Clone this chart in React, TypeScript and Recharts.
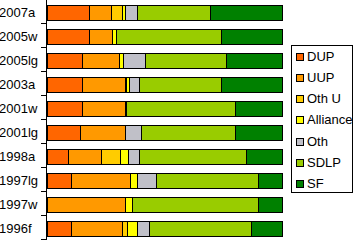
import { BarChart, Bar, XAxis, YAxis } from "recharts";

const categories = ["2007a", "2005w", "2005lg", "2003a", "2001w", "2001lg", "1998a", "1997lg", "1997w", "1996f"];

const dup = [17.8, 17.8, 15.1, 14.7, 14.7, 13.9, 8.8, 10.2, 0, 10.2];
const uup = [9.6, 9.9, 15.7, 18.4, 18.4, 19.1, 14.4, 25.0, 33.4, 21.9];
const othU = [4.4, 0, 0, 0.7, 0, 0, 8.1, 0, 0, 2.1];
const alliance = [1.6, 1.6, 1.7, 1.3, 0.7, 0, 3.0, 3.3, 3.0, 4.1];
const oth = [4.8, 0, 9.3, 4.0, 0, 6.9, 5.1, 8.1, 0, 5.2];
const sdlp = [31.3, 44.8, 34.4, 35.1, 46.3, 40.2, 45.4, 43.3, 53.5, 43.3];
const sf = [30.6, 25.9, 23.8, 25.9, 19.9, 19.9, 15.3, 10.2, 10.2, 13.2];

const SERIES = [
  { key: "DUP", values: dup, color: "#FF6600" },
  { key: "UUP", values: uup, color: "#FF9900" },
  { key: "Oth U", values: othU, color: "#FFCC00" },
  { key: "Alliance", values: alliance, color: "#FFFF00" },
  { key: "Oth", values: oth, color: "#C0C0C8" },
  { key: "SDLP", values: sdlp, color: "#99CC00" },
  { key: "SF", values: sf, color: "#008000" },
];

const data = categories.map((name, i) => {
  const row: any = { name };
  SERIES.forEach((s) => {
    row[s.key] = s.values[i];
  });
  return row;
});

const FONT = '"Liberation Sans", Arial, sans-serif';
const AXIS_X = 46.5;

const CategoryTick = ({ y, payload }: any) => (
  <g>
    <line x1={AXIS_X} x2={AXIS_X} y1={y - 12} y2={y + 12} stroke="#000" shapeRendering="crispEdges" />
    <line x1={41} x2={AXIS_X} y1={y + 11.5} y2={y + 11.5} stroke="#000" shapeRendering="crispEdges" />
    <text x={-1} y={y} dy={5} fontSize={13} fontFamily={FONT} fill="#000" textAnchor="start">
      {payload.value}
    </text>
  </g>
);

function ChartLegend() {
  return (
    <div
      style={{
        position: "absolute",
        left: 291,
        top: 45,
        width: 62,
        height: 148,
        boxSizing: "border-box",
        border: "1px solid #000",
        background: "#fff",
        fontFamily: FONT,
        fontSize: 13,
      }}
    >
      {SERIES.map((s, i) => (
        <div
          key={s.key}
          style={{
            position: "absolute",
            left: 4,
            top: 10.7 + i * 21.2 - 8,
            height: 16,
            lineHeight: "16px",
            display: "flex",
            alignItems: "center",
            whiteSpace: "nowrap",
            color: "#000",
          }}
        >
          <span
            style={{
              display: "inline-block",
              width: 8,
              height: 8,
              boxSizing: "border-box",
              border: "1px solid #000",
              background: s.color,
              marginRight: 3,
            }}
          />
          {s.key}
        </div>
      ))}
    </div>
  );
}

export default function App() {
  return (
    <div style={{ position: "absolute", left: 0, top: 0, width: 357, height: 241, background: "#fff" }}>
      <BarChart
        width={357}
        height={241}
        data={data}
        layout="vertical"
        stackOffset="expand"
        margin={{ top: 0, right: 74.5, bottom: 1, left: 0 }}
      >
        <XAxis type="number" domain={[0, 1]} hide />
        <YAxis
          type="category"
          dataKey="name"
          width={47.5}
          axisLine={false}
          tickLine={false}
          tick={<CategoryTick />}
          interval={0}
        />
        {SERIES.map((s) => (
          <Bar
            key={s.key}
            dataKey={s.key}
            stackId="a"
            fill={s.color}
            stroke="#000"
            strokeWidth={1}
            barSize={15}
            shapeRendering="crispEdges"
            isAnimationActive={false}
          />
        ))}
      </BarChart>
      <ChartLegend />
    </div>
  );
}
